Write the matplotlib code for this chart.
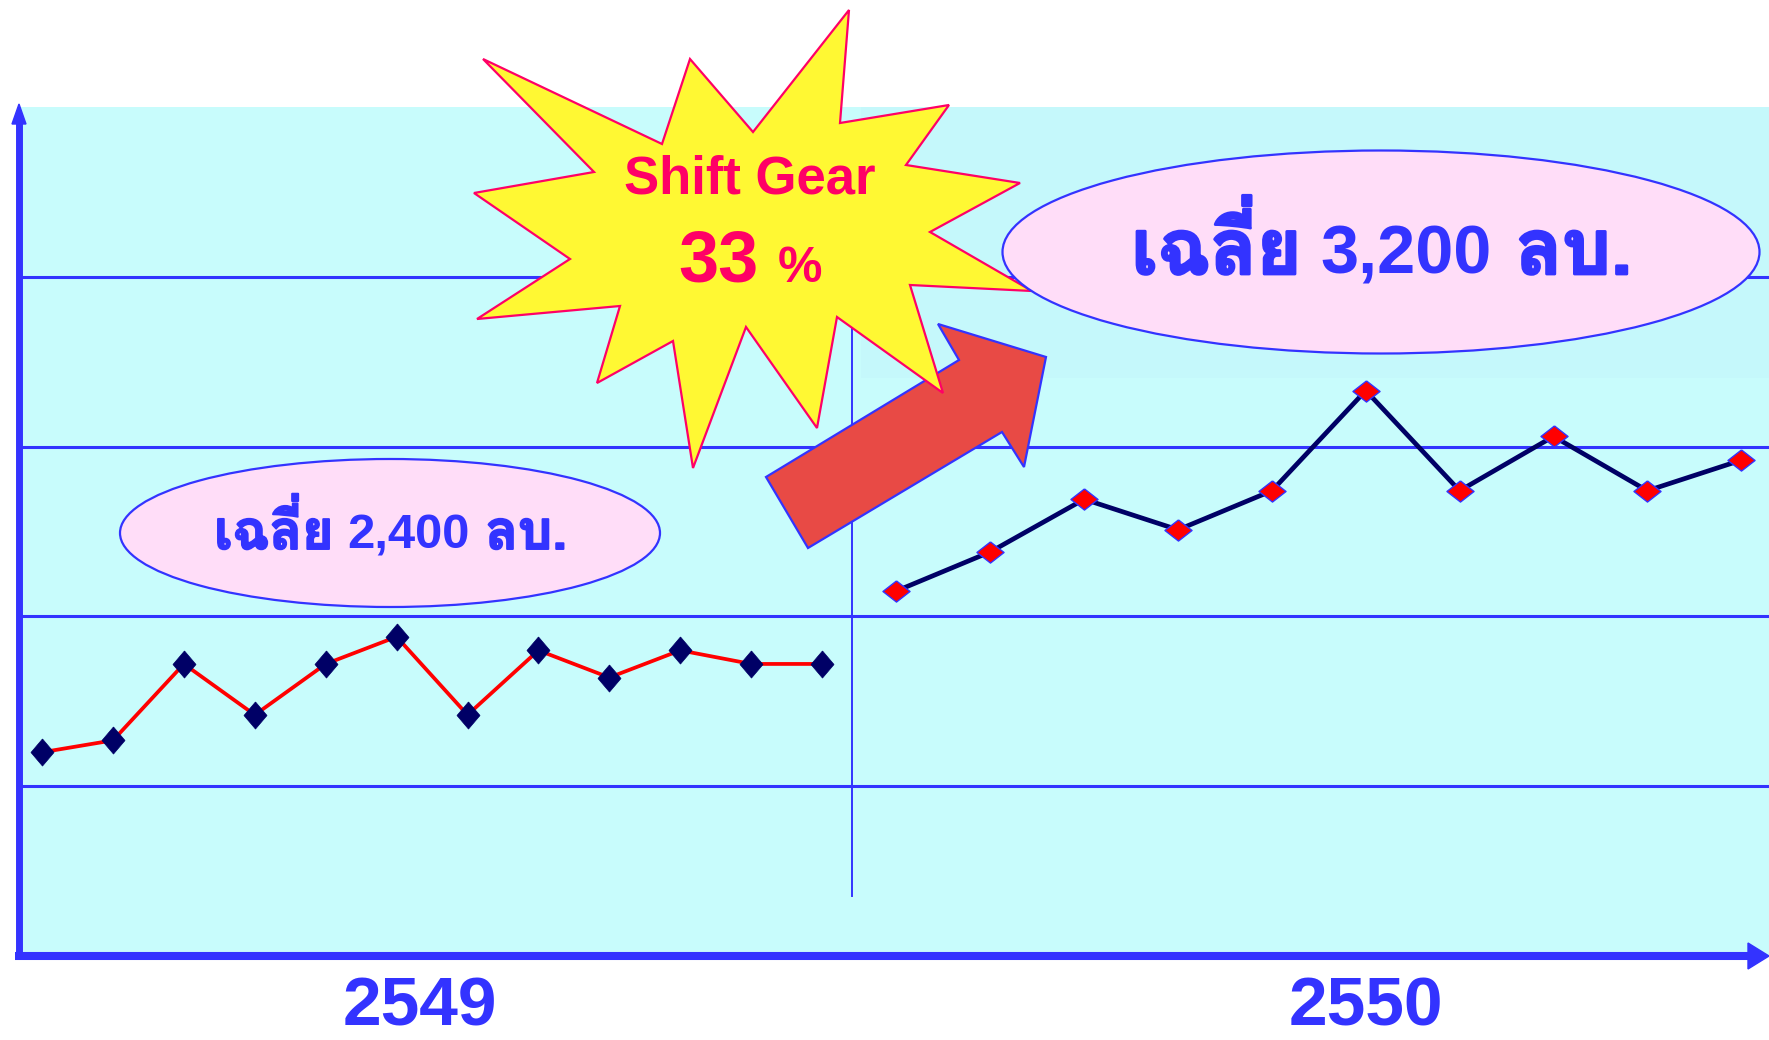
import matplotlib
matplotlib.use("Agg")
import matplotlib.pyplot as plt
import matplotlib.patheffects as pe
from matplotlib.patches import Polygon, Ellipse, Rectangle
from matplotlib.transforms import Affine2D
from matplotlib.textpath import TextPath
from matplotlib.font_manager import FontProperties

W, H = 1769, 1040

# monthly values (million baht)
months_2549 = list(range(1, 13))
sales_2549 = [2100, 2135, 2360, 2210, 2360, 2440, 2210, 2400, 2320, 2400, 2360, 2360]
months_2550 = list(range(1, 11))
sales_2550 = [2575, 2690, 2845, 2755, 2870, 3165, 2870, 3030, 2870, 2960]
years = ["2549", "2550"]
avg_word = "เฉลี่ย"
avg_numbers = ["2,400", "3,200"]
avg_unit = "ลบ."
grid_ticks = [2000, 2500, 3000, 3500]

BLUE = "#3333FF"
NAVY = "#000066"
CYAN = "#C8FCFC"
PINK = "#FFDDF8"
THAI = ["Loma", "Sarabun", "Noto Sans Thai Looped", "DejaVu Sans"]
LATIN = "Liberation Sans"

fig = plt.figure(figsize=(W / 100, H / 100), dpi=100)
# pixel coordinates, origin top-left
px = Affine2D().scale(1 / W, -1 / H).translate(0, 1) + fig.transFigure

# background plot area with grid
ax = fig.add_axes([19 / W, 84 / H, 1750 / W, 849 / H])
ax.set_facecolor(CYAN)
ax.set_ylim(1500, 4000)
ax.set_xlim(0, 1)
ax.set_yticks(grid_ticks)
ax.set_xticks([])
ax.tick_params(left=False, labelleft=False)
ax.set_axisbelow(True)
ax.grid(axis="y", color=BLUE, linewidth=2.2)
for s in ax.spines.values():
    s.set_visible(False)
ax.add_patch(Rectangle((861, 107), 908, 271, transform=px, facecolor="#C5F8FB",
                       edgecolor="none", zorder=0.2))
ax.plot([852, 852], [316, 896], transform=px, color=BLUE, linewidth=1.4, zorder=1)

# the two years
ax_l = fig.add_axes([19 / W, 84 / H, 833 / W, 849 / H])
ax_r = fig.add_axes([852 / W, 84 / H, 917 / W, 849 / H])
diamond_tall = [(0, 1), (0.85, 0), (0, -1), (-0.85, 0), (0, 1)]
diamond_wide = [(0, 0.78), (1, 0), (0, -0.78), (-1, 0), (0, 0.78)]
ax_l.plot(months_2549, sales_2549, color="#FF0000", linewidth=2.7,
          marker=diamond_tall, markersize=19.5, markerfacecolor=NAVY,
          markeredgecolor=NAVY, markeredgewidth=0.5)
ax_r.plot(months_2550, sales_2550, color=NAVY, linewidth=3.4,
          marker=diamond_wide, markersize=19.5, markerfacecolor="#FF0000",
          markeredgecolor=BLUE, markeredgewidth=1.0)
ax_l.set_xlim(0.674, 12.423)
ax_r.set_xlim(0.526, 10.296)
for a in (ax_l, ax_r):
    a.set_ylim(1500, 4000)
    a.axis("off")
    a.patch.set_visible(False)

# decorations layer
ax_c = fig.add_axes([0, 0, 1, 1])
ax_c.set_xlim(0, W)
ax_c.set_ylim(H, 0)
ax_c.axis("off")
ax_c.patch.set_visible(False)

# axis lines with arrow heads
ax_c.plot([19, 19], [958, 118], color=BLUE, linewidth=5, solid_capstyle="butt")
ax_c.add_patch(Polygon([(12, 124), (19, 104), (26, 124)], closed=True, color=BLUE))
ax_c.plot([15, 1752], [956, 956], color=BLUE, linewidth=5.8, solid_capstyle="butt")
ax_c.add_patch(Polygon([(1748, 943), (1769, 956), (1748, 969)], closed=True, color=BLUE))

# arrow
arrow_pts = [(808, 548), (766, 477), (959, 360), (938, 324), (1046, 357),
             (1024, 467), (1002, 432)]
ax_c.add_patch(Polygon(arrow_pts, closed=True, facecolor="#E84A45", edgecolor=BLUE,
                       linewidth=1.6, zorder=2))

# star burst
star_pts = [(849, 10), (840, 123), (949, 105), (906, 165), (1020, 183), (930, 232),
            (1032, 291), (910, 285), (943, 393), (837, 317), (817, 428), (746, 327),
            (693, 468), (673, 341), (597, 383), (620, 306), (477, 319), (570, 259),
            (474, 193), (594, 172), (483, 59), (662, 144), (690, 59), (753, 132)]
ax_c.add_patch(Polygon(star_pts, closed=True, facecolor="#FFF833", edgecolor="#FF0066",
                       linewidth=1.6, zorder=3))
ax_c.text(750, 194, "Shift Gear", ha="center", va="baseline", color="#FF0066",
          fontsize=38, fontweight="bold", family=LATIN, zorder=4)
ax_c.text(718, 282, "33", ha="center", va="baseline", color="#FF0066",
          fontsize=52, fontweight="bold", family=LATIN, zorder=4)
ax_c.text(800, 282, "%", ha="center", va="baseline", color="#FF0066",
          fontsize=36, fontweight="bold", family=LATIN, zorder=4)


def ink(s, size, fam, weight):
    # ink box of a string in pixels, relative to its origin (y up)
    p = TextPath((0, 0), s, size=size, prop=FontProperties(family=fam, weight=weight))
    e = p.get_extents()
    k = 100 / 72
    return e.x0 * k, e.x1 * k, e.y0 * k, e.y1 * k


def put(s, x0, x1, base, size, fam, weight, fit=False, thick=0):
    if fit:
        a, b, _, _ = ink(s, size, fam, weight)
        size = size * (x1 - x0) / (b - a)
    a, b, _, _ = ink(s, size, fam, weight)
    left = (x0 + x1) / 2 - (b - a) / 2
    t = ax_c.text(left - a, base, s, ha="left", va="baseline", color=BLUE, fontsize=size,
                  fontweight=weight, family=fam, zorder=6)
    if thick:
        t.set_path_effects([pe.Stroke(linewidth=thick, foreground=BLUE), pe.Normal()])
    return size


# average ellipses; spans are the ink extents of each piece in the picture
ellipses = [((390, 533), 540, 148), ((1381, 252), 757, 203)]
spans = [dict(word=(218, 329), num=(349, 468), unit=(488, 564), base=549, bold=1.4),
         dict(word=(1137, 1295), num=(1322, 1489), unit=(1519, 1628), base=274, bold=2.0)]
for (center, ew, eh), number, sp in zip(ellipses, avg_numbers, spans):
    ax_c.add_patch(Ellipse(center, ew, eh, facecolor=PINK, edgecolor=BLUE,
                           linewidth=1.6, zorder=5))
    tsize = put(avg_word, *sp["word"], sp["base"], 40, THAI, "bold", fit=True,
                thick=sp["bold"])
    put(number, *sp["num"], sp["base"], 34, LATIN, "bold", fit=True)
    put(avg_unit, *sp["unit"], sp["base"], tsize, THAI, "bold", thick=sp["bold"])

# year labels
for label, xc in zip(years, [420, 1366]):
    ax_c.text(xc, 1025, label, ha="center", va="baseline", color=BLUE,
              fontsize=50, fontweight="bold", family=LATIN)

fig.savefig("out.png", dpi=100)
